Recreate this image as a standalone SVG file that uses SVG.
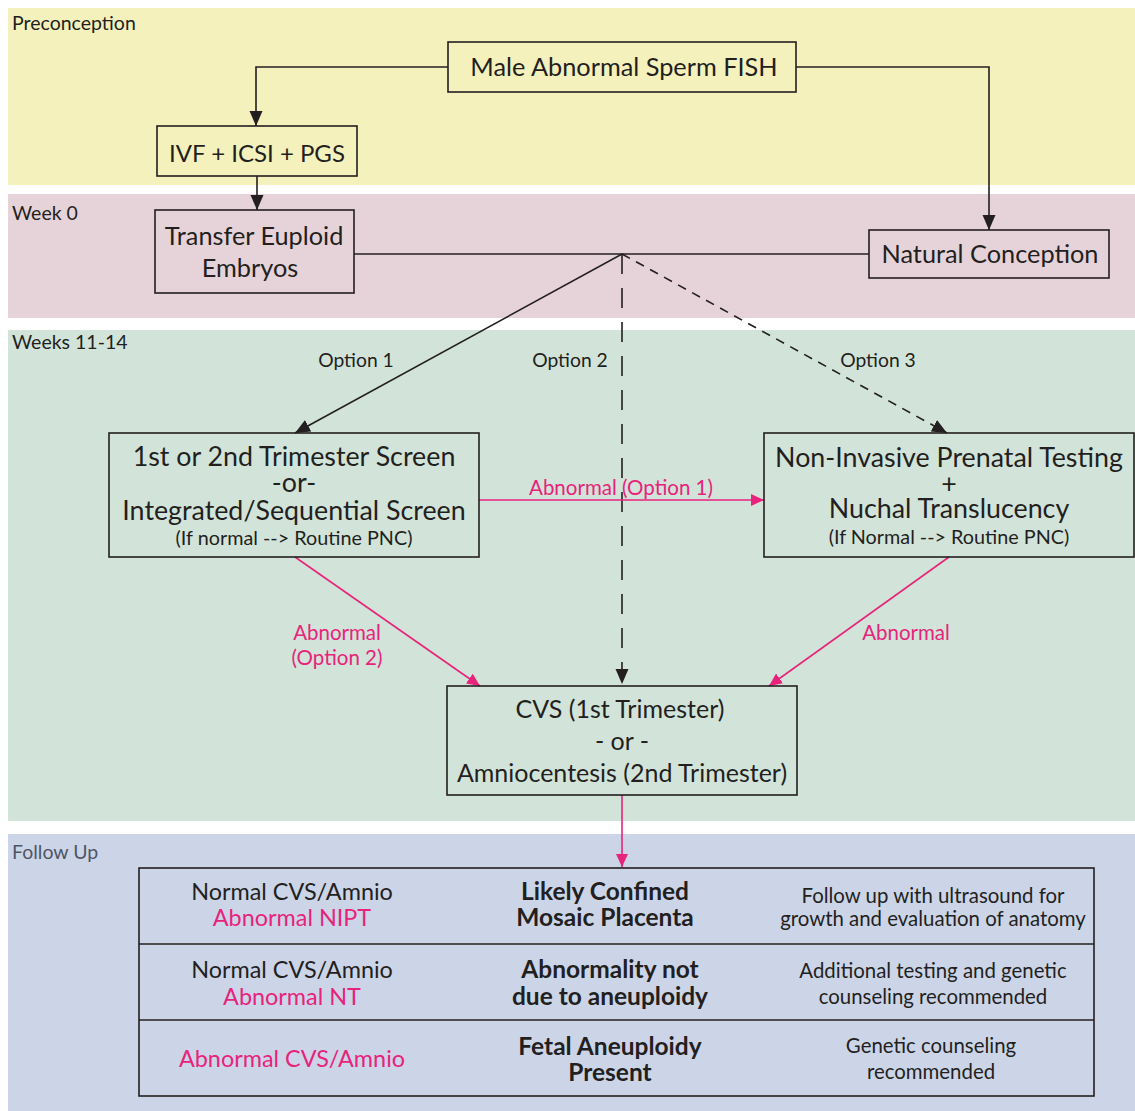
<svg xmlns="http://www.w3.org/2000/svg" width="1135" height="1111" viewBox="0 0 1135 1111">
<defs>
<style>
text{font-family:Lato,"Liberation Sans",sans-serif;fill:#231f20}
.band{font-size:19.5px}
.node{fill:none;stroke:#231f20;stroke-width:1.6}
.t{font-size:25.3px;text-anchor:middle}
.w{font-size:26.8px;text-anchor:middle}
.s{font-size:19.8px;text-anchor:middle}
.cv{font-size:25px;text-anchor:middle}
.c{fill:none;stroke:#231f20;stroke-width:1.6}
.p{fill:none;stroke:#e8237b;stroke-width:1.6}
.pl{fill:#e8237b;font-size:20.5px;text-anchor:middle}
.opt{font-size:19.3px;text-anchor:middle}
.r1{font-size:23.4px;text-anchor:middle}
.r1p{font-size:23.4px;text-anchor:middle;fill:#e8237b}
.b{font-size:24.5px;font-weight:bold;text-anchor:middle}
.r3{font-size:20.4px;text-anchor:middle}
</style>
<marker id="ab" markerUnits="userSpaceOnUse" markerWidth="16" markerHeight="16" viewBox="0 0 16 16" refX="15" refY="8" orient="auto">
<path d="M0,1.5 L15,8 L0,14.5 Z" fill="#231f20"/>
</marker>
<marker id="ap" markerUnits="userSpaceOnUse" markerWidth="14" markerHeight="14" viewBox="0 0 14 14" refX="13" refY="7" orient="auto">
<path d="M0,1 L13,7 L0,13 Z" fill="#e8237b"/>
</marker>
</defs>
<rect width="1135" height="1111" fill="#ffffff"/>
<g id="bands">
<rect x="8" y="8" width="1127" height="177" fill="#f4f1bc"/>
<rect x="8" y="194" width="1127" height="124" fill="#e6d3d9"/>
<rect x="8" y="330" width="1127" height="491" fill="#d2e4d9"/>
<rect x="8" y="834" width="1127" height="277" fill="#ccd5e8"/>
<text class="band" x="12" y="30">Preconception</text>
<text class="band" x="12" y="220">Week 0</text>
<text class="band" x="12" y="349">Weeks 11-14</text>
<text class="band" x="12" y="859" style="fill:#4f5566">Follow Up</text>
</g>
<g id="connectors">
<path class="c" d="M448,67 H256 V126" marker-end="url(#ab)"/>
<path class="c" d="M796,67 H989 V230" marker-end="url(#ab)"/>
<path class="c" d="M257,176 V210" marker-end="url(#ab)"/>
<path class="c" d="M354,254 H869"/>
<path class="c" d="M622,254 L295,433" marker-end="url(#ab)"/>
<path class="c" d="M622,254 V684" stroke-dasharray="20 14" marker-end="url(#ab)"/>
<path class="c" d="M622,254 L947,433" stroke-dasharray="9 7" marker-end="url(#ab)"/>
<path class="p" d="M479,500 H764" marker-end="url(#ap)"/>
<path class="p" d="M295,557 L480,686" marker-end="url(#ap)"/>
<path class="p" d="M949,557 L769,686" marker-end="url(#ap)"/>
<path class="p" d="M622,795 V867" marker-end="url(#ap)"/>
<text class="opt" x="356" y="367">Option 1</text>
<text class="opt" x="570" y="367">Option 2</text>
<text class="opt" x="878" y="367">Option 3</text>
<text class="pl" x="621" y="495">Abnormal (Option 1)</text>
<text class="pl" x="337" y="640">Abnormal</text>
<text class="pl" x="337" y="665">(Option 2)</text>
<text class="pl" x="906" y="640">Abnormal</text>
</g>
<g id="male">
<rect class="node" x="448" y="42" width="348" height="50"/>
<text class="t" x="624" y="76">Male Abnormal Sperm FISH</text>
</g>
<g id="ivf">
<rect class="node" x="157" y="126" width="200" height="50"/>
<text class="t" x="257" y="162" style="font-size:24px">IVF + ICSI + PGS</text>
</g>
<g id="transfer">
<rect class="node" x="155" y="210" width="199" height="83"/>
<text class="t" x="254" y="245">Transfer Euploid</text>
<text class="t" x="250" y="277">Embryos</text>
</g>
<g id="natural">
<rect class="node" x="869" y="230" width="240" height="48"/>
<text class="t" x="990" y="263">Natural Conception</text>
</g>
<g id="screen">
<rect class="node" x="109" y="433" width="370" height="124"/>
<text class="w" x="294" y="466">1st or 2nd Trimester Screen</text>
<text class="w" x="294" y="492">-or-</text>
<text class="w" x="294" y="520">Integrated/Sequential Screen</text>
<text class="s" x="294" y="545">(If normal --&gt; Routine PNC)</text>
</g>
<g id="nipt">
<rect class="node" x="764" y="433" width="370" height="124"/>
<text class="w" x="949" y="467">Non-Invasive Prenatal Testing</text>
<text class="w" x="949" y="493">+</text>
<text class="w" x="949" y="518">Nuchal Translucency</text>
<text class="s" x="949" y="544">(If Normal --&gt; Routine PNC)</text>
</g>
<g id="cvs">
<rect class="node" x="447" y="686" width="350" height="109"/>
<text class="cv" x="620" y="718">CVS (1st Trimester)</text>
<text class="cv" x="622" y="750">- or -</text>
<text class="cv" x="622" y="782">Amniocentesis (2nd Trimester)</text>
</g>
<g id="table">
<rect class="node" x="139" y="868" width="955" height="228"/>
<line class="node" x1="139" y1="944" x2="1094" y2="944"/>
<line class="node" x1="139" y1="1020" x2="1094" y2="1020"/>
<text class="r1" x="292" y="900">Normal CVS/Amnio</text>
<text class="r1p" x="292" y="926">Abnormal NIPT</text>
<text class="b" x="605" y="900">Likely Confined</text>
<text class="b" x="605" y="926">Mosaic Placenta</text>
<text class="r3" x="933" y="903">Follow up with ultrasound for</text>
<text class="r3" x="933" y="926">growth and evaluation of anatomy</text>
<text class="r1" x="292" y="978">Normal CVS/Amnio</text>
<text class="r1p" x="292" y="1005">Abnormal NT</text>
<text class="b" x="610" y="978">Abnormality not</text>
<text class="b" x="610" y="1005">due to aneuploidy</text>
<text class="r3" x="933" y="978">Additional testing and genetic</text>
<text class="r3" x="933" y="1004">counseling recommended</text>
<text class="r1p" x="292" y="1067">Abnormal CVS/Amnio</text>
<text class="b" x="610" y="1055">Fetal Aneuploidy</text>
<text class="b" x="610" y="1081">Present</text>
<text class="r3" x="931" y="1053">Genetic counseling</text>
<text class="r3" x="931" y="1079">recommended</text>
</g>
</svg>
